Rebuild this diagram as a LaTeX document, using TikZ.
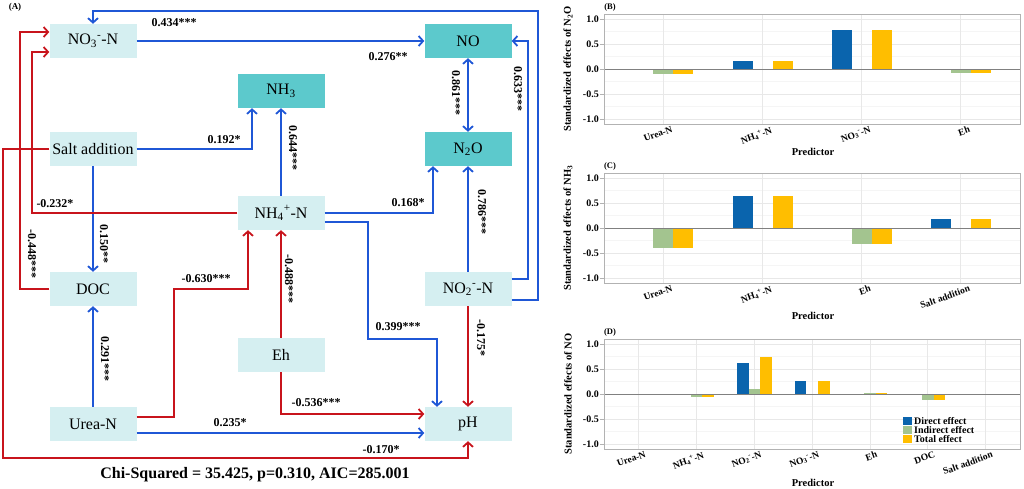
\documentclass[tikz,border=0pt]{standalone}
\usepackage{fontspec}
\setmainfont{Liberation Serif}
\usetikzlibrary{arrows.meta}

\definecolor{boxlight}{HTML}{D5EFF1}
\definecolor{boxdark}{HTML}{5CC9CC}
\definecolor{pathblue}{HTML}{1F57D6}
\definecolor{pathred}{HTML}{C8141C}
\definecolor{bardirect}{HTML}{0A64AD}
\definecolor{barindirect}{HTML}{A3C48F}
\definecolor{bartotal}{HTML}{FFBE00}

\tikzset{
  var/.style={fill=boxlight, minimum width=87pt, minimum height=34pt, inner sep=0pt,
    font=\fontsize{16}{18}\selectfont},
  gas/.style={var, fill=boxdark},
  posedge/.style={->, draw=pathblue, line width=1.8pt},
  negedge/.style={->, draw=pathred, line width=1.8pt},
  coef/.style={font=\fontsize{12}{14}\selectfont\bfseries, inner sep=1pt},
  vcoef/.style={coef, rotate=-90},
  gridminor/.style={draw=black!4, line width=0.4pt},
  gridmajor/.style={draw=black!9, line width=0.5pt},
  plotframe/.style={draw=black!30, line width=0.8pt},
  zeroline/.style={draw=black!50, line width=1pt},
  ticklab/.style={font=\fontsize{10}{12}\selectfont\bfseries, inner sep=1pt},
  catlab/.style={font=\fontsize{9.5}{11}\selectfont\bfseries, inner sep=0.5pt, rotate=20, anchor=north east},
  axtitle/.style={font=\fontsize{10.5}{12}\selectfont\bfseries, inner sep=0pt},
}

% axes of one effect panel: #1 category centres, #2 name prefix
\newcommand{\effaxes}[2]{%
  \foreach \v in {-0.75,-0.25,0.25,0.75} \draw[gridminor] (604,-50*\v) -- (1020,-50*\v);
  \foreach \v in {-1,-0.5,0.5,1} \draw[gridmajor] (604,-50*\v) -- (1020,-50*\v);
  \foreach \c in {#1} \draw[gridmajor] (\c,-55) -- (\c,55);
  \foreach \v/\t [count=\k] in {1/1.0,0.5/0.5,0/0.0,-0.5/-0.5,-1/-1.0} {
    \draw[plotframe] (600,-50*\v) -- (604,-50*\v);
    \node[ticklab, anchor=east] (#2tick\k) at (600,-50*\v) {\t};
  }
}
% bars: #1 half bar width, #2 list centre/direct/indirect/total
\newcommand{\effbars}[2]{%
  \foreach \c/\d/\i/\s in {#2} {
    \fill[bardirect] (\c-3*#1,0) rectangle (\c-#1,-50*\d);
    \fill[barindirect] (\c-#1,0) rectangle (\c+#1,-50*\i);
    \fill[bartotal] (\c+#1,0) rectangle (\c+3*#1,-50*\s);
  }
  \draw[zeroline] (604,0) -- (1020,0);
  \draw[plotframe] (604,-55) rectangle (1020,55);
}

\begin{document}
\begin{tikzpicture}[x=1pt, y=-1pt, >={Straight Barb[length=4.5pt, width=10pt]}]

    \useasboundingbox (0,0) rectangle (1024,488);

    % Nodes

    \node[var] (no3)  at (93,41)   {NO\textsubscript{3}\textsuperscript{-}-N}; %
    \node[gas] (no)   at (468,41)  {NO}; %
    \node[gas] (nh3)  at (281,91)  {NH\textsubscript{3}}; %
    \node[var] (salt) at (93,149)  {Salt addition}; %
    \node[gas] (n2o)  at (468,149) {N\textsubscript{2}O}; %
    \node[var] (nh4)  at (281,213) {NH\textsubscript{4}\textsuperscript{+}-N}; %
    \node[var] (doc)  at (93,289)  {DOC}; %
    \node[var] (no2)  at (468,289) {NO\textsubscript{2}\textsuperscript{-}-N}; %
    \node[var] (eh)   at (281,355) {Eh}; %
    \node[var] (urea) at (93,424)  {Urea-N}; %
    \node[var] (ph)   at (468,424) {pH}; %

    % Corners of the long paths
    \coordinate (ctop)  at (538,11);
    \coordinate (cno)   at (528,41);
    \coordinate (curea) at (174,289);
    \coordinate (csalt) at (3,458);
    \coordinate (cnh4)  at (368,339);
    \coordinate (cdoc)  at (20,32);
    \coordinate (cnh4b) at (32,52);

    % Positive paths
    \draw[posedge] (no3.east) -- (no.west);
    \draw[posedge] ([yshift=-11pt]no2.east) -| (ctop) -| (no3.north);
    \draw[posedge] ([yshift=10pt]no2.east) -| (cno) -- (no.east);
    \draw[posedge, <->] (no.south) -- (n2o.north);
    \draw[posedge] (no2.north) -- (n2o.south);
    \draw[posedge] (nh4.east) -| ([xshift=-35pt]n2o.south);
    \draw[posedge] (nh4.north) -- (nh3.south);
    \draw[posedge] (salt.east) -| ([xshift=-29pt]nh3.south);
    \draw[posedge] (salt.south) -- (doc.north);
    \draw[posedge] (urea.north) -- (doc.south);
    \draw[posedge] ([yshift=-9pt]urea.east) -- ([yshift=-9pt]ph.west);
    \draw[posedge] ([yshift=-9pt]nh4.east) -| (cnh4) -| ([xshift=-31pt]ph.north);

    % Negative paths
    \draw[negedge] (salt.west) -| (csalt) -| (ph.south);
    \draw[negedge] (doc.west) -| (cdoc) -- ([yshift=9pt]no3.west);
    \draw[negedge] (nh4.west) -| (cnh4b) -- ([yshift=-11pt]no3.west);
    \draw[negedge] ([yshift=7pt]urea.east) -| (curea) -| ([xshift=-33pt]nh4.south);
    \draw[negedge] (eh.north) -- (nh4.south);
    \draw[negedge] (eh.south) |- ([yshift=10pt]ph.west);
    \draw[negedge] (no2.south) -- (ph.north);

    % Path coefficients
    \node[coef]  (k434) at (174,23)  {0.434***};
    \node[coef]  (k276) at (388,57)  {0.276**};
    \node[vcoef] (k861) at (456,93)  {0.861***};
    \node[vcoef] (k633) at (518,89)  {0.633***};
    \node[vcoef] (k644) at (293,148) {0.644***};
    \node[coef]  (k192) at (224,140) {0.192*};
    \node[coef]  (k168) at (408,203) {0.168*};
    \node[vcoef] (k786) at (482,212) {0.786***};
    \node[coef]  (k232) at (55,204)  {-0.232*};
    \node[vcoef] (k150) at (104,244) {0.150**};
    \node[vcoef] (k448) at (32,254)  {-0.448***};
    \node[coef]  (k630) at (206,279) {-0.630***};
    \node[vcoef] (k488) at (289,279) {-0.488***};
    \node[vcoef] (k291) at (105,359) {0.291***};
    \node[coef]  (k399) at (398,327) {0.399***};
    \node[vcoef] (k175) at (481,338) {-0.175*};
    \node[coef]  (k536) at (316,403) {-0.536***};
    \node[coef]  (k235) at (230,423) {0.235*};
    \node[coef]  (k170) at (381,450) {-0.170*};

    \node[font=\fontsize{9}{10}\selectfont\bfseries] (tagA) at (15,7) {(A)};
    \node[font=\fontsize{16}{18}\selectfont\bfseries] (fit) at (255,475)
      {Chi-Squared = 35.425, p=0.310, AIC=285.001};

    % Panel B: effects on N2O
    \begin{scope}[shift={(0,69)}]
      \effaxes{663.4,762.5,861.6,960.7}{b}
      \effbars{10}{663.4/0/-0.10/-0.10, 762.5/0.16/0/0.16, 861.6/0.78/0/0.78, 960.7/0/-0.08/-0.08}
      \foreach \c/\t [count=\k] in {663.4/Urea-N, 762.5/NH\textsubscript{4}\textsuperscript{+}-N,
          861.6/NO\textsubscript{3}\textsuperscript{-}-N, 960.7/Eh}
        \node[catlab] (bcat\k) at (\c+8,56) {\t};
      \node[axtitle, rotate=90] (btitle) at (568,0) {Standardized effects of N\textsubscript{2}O};
      \node[axtitle] (bpred) at (813,83) {Predictor};
      \node[ticklab, font=\fontsize{8.5}{10}\selectfont\bfseries] (tagB) at (610,-62) {(B)};
    \end{scope}

    % Panel C: effects on NH3
    \begin{scope}[shift={(0,228)}]
      \effaxes{663.4,762.5,861.6,960.7}{c}
      \effbars{10}{663.4/0/-0.40/-0.40, 762.5/0.65/0/0.65, 861.6/0/-0.32/-0.32, 960.7/0.19/0/0.19}
      \foreach \c/\t [count=\k] in {663.4/Urea-N, 762.5/NH\textsubscript{4}\textsuperscript{+}-N,
          861.6/Eh, 960.7/Salt addition}
        \node[catlab] (ccat\k) at (\c+8,56) {\t};
      \node[axtitle, rotate=90] (ctitle) at (568,0) {Standardized effects of NH\textsubscript{3}};
      \node[axtitle] (cpred) at (813,88) {Predictor};
      \node[ticklab, font=\fontsize{8.5}{10}\selectfont\bfseries] (tagC) at (610,-62) {(C)};
    \end{scope}

    % Panel D: effects on NO
    \begin{scope}[shift={(0,394)}]
      \effaxes{638.7,696.5,754.3,812.1,869.9,927.7,985.5}{d}
      \effbars{5.8}{696.5/0/-0.06/-0.06, 754.3/0.63/0.11/0.75, 812.1/0.27/0/0.27,
          869.9/0/0.02/0.02, 927.7/0/-0.12/-0.12, 985.5/0/-0.01/-0.01}
      \foreach \c/\t [count=\k] in {638.7/Urea-N, 696.5/NH\textsubscript{4}\textsuperscript{+}-N,
          754.3/NO\textsubscript{2}\textsuperscript{-}-N, 812.1/NO\textsubscript{3}\textsuperscript{-}-N,
          869.9/Eh, 927.7/DOC, 985.5/Salt addition}
        \node[catlab] (dcat\k) at (\c+6,56) {\t};
      \node[axtitle, rotate=90] (dtitle) at (568,0) {Standardized effects of NO};
      \node[axtitle] (dpred) at (813,89) {Predictor};
      \node[ticklab, font=\fontsize{8.5}{10}\selectfont\bfseries] (tagD) at (610,-62) {(D)};
      % legend
      \foreach \col/\t [count=\k] in {bardirect/Direct effect, barindirect/Indirect effect, bartotal/Total effect} {
        \fill[\col] (903,14+9*\k) rectangle (912,22+9*\k);
        \node[ticklab, anchor=west] (leg\k) at (913,18+9*\k) {\t};
      }
    \end{scope}

\end{tikzpicture}
\end{document}
